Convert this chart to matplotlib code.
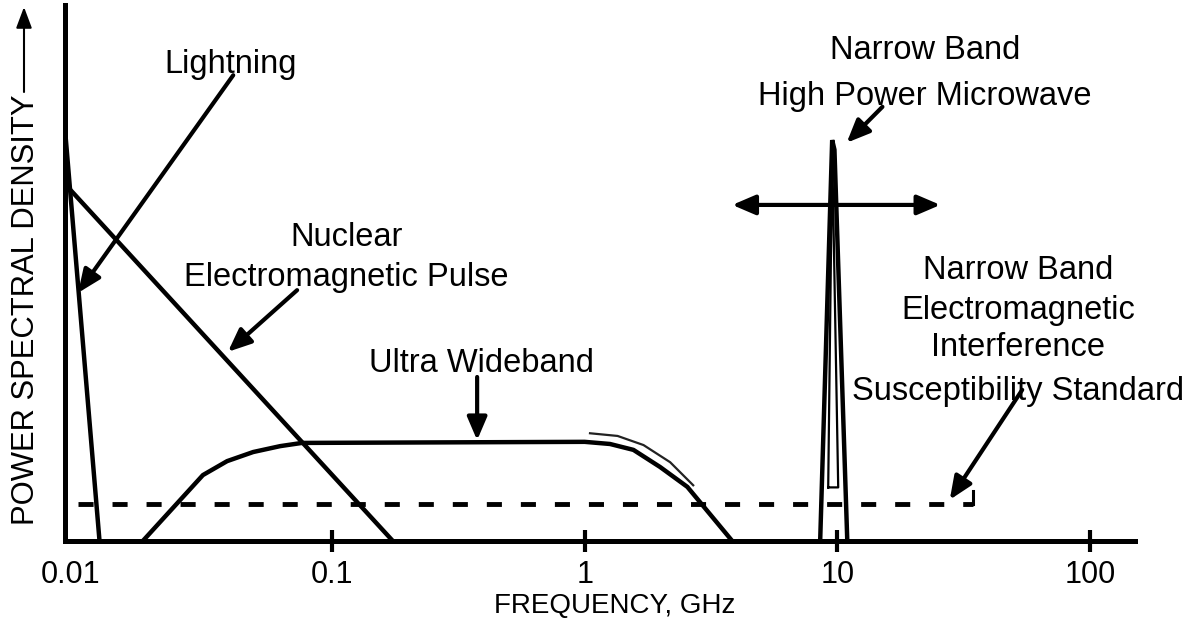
import numpy as np
import matplotlib
matplotlib.use("Agg")
import matplotlib.pyplot as plt
import matplotlib.transforms as mtransforms

plt.rcParams['font.family'] = ['Liberation Sans', 'DejaVu Sans']

# ---- data: frequency (GHz) vs relative power spectral density (0..1) ----
lightning_f = [0.0088, 0.0120]
lightning_p = [0.757, 0.0]

nemp_f = [0.0090, 0.174]
nemp_p = [0.660, 0.0]

uwb_f = [0.0178, 0.0308, 0.0384, 0.0487, 0.0623, 0.0760, 1.00, 1.26, 1.56, 1.99, 2.55, 3.84]
uwb_p = [0.0, 0.123, 0.149, 0.166, 0.177, 0.183, 0.185, 0.181, 0.170, 0.138, 0.101, 0.0]

uwb_ghost_f = [1.05, 1.35, 1.71, 2.18, 2.69]
uwb_ghost_p = [0.201, 0.196, 0.179, 0.147, 0.104]

hpm_f = [8.56, 9.55, 9.75, 10.96]
hpm_p = [0.0, 0.748, 0.730, 0.0]

hpm_inner_f = [9.21, 9.55, 10.09, 9.21]
hpm_inner_p = [0.10, 0.73, 0.10, 0.10]

hpm_band_f = [3.84, 25.6]
hpm_band_p = 0.627

emi_f = [0.00987, 34.6]
emi_p = 0.069
emi_hook_p = 0.093

tick_vals = [0.01, 0.1, 1, 10, 100]
tick_labels = ['0.01', '0.1', '1', '10', '100']

x_limits = (0.00876, 151)

# annotation anchors (text position, arrow tail, arrow head)
lightning_text = (0.0395, 0.873)
lightning_arrow = ((0.0406, 0.869), (0.00987, 0.463))

nemp_text_f = 0.1136
nemp_text_lines = [('Nuclear', 0.551), ('Electromagnetic Pulse', 0.476)]
nemp_arrow = ((0.0727, 0.468), (0.0387, 0.353))

uwb_text = (0.389, 0.315)
uwb_arrow = ((0.3752, 0.306), (0.3752, 0.188))

hpm_text_f = 22.3
hpm_text_lines = [('Narrow Band', 0.900), ('High Power Microwave', 0.813)]
hpm_arrow = ((15.1, 0.810), (10.9, 0.743))

emi_text_f = 52.1
emi_text_lines = [('Narrow Band', 0.489), ('Electromagnetic', 0.414),
                  ('Interference', 0.345), ('Susceptibility Standard', 0.263)]
emi_arrow = ((54.0, 0.282), (27.9, 0.077))

# ---- figure ----
W, H = 1202, 624
fig = plt.figure(figsize=(W / 100, H / 100), dpi=100)
ax = fig.add_axes([65 / W, (H - 541) / H, 1070 / W, 536 / H])
ax.set_xscale('log')
ax.set_xlim(*x_limits)
ax.set_ylim(0, 1)

lw = 3.2
ax.plot(lightning_f, lightning_p, color='black', lw=lw, solid_capstyle='butt')
ax.plot(nemp_f, nemp_p, color='black', lw=lw)
ax.plot(uwb_f, uwb_p, color='black', lw=lw, solid_joinstyle='round')
ax.plot(uwb_ghost_f, uwb_ghost_p, color='#222222', lw=1.6)
ax.plot(hpm_f, hpm_p, color='black', lw=lw, solid_joinstyle='miter')
ax.plot(hpm_inner_f, hpm_inner_p, color='black', lw=1.6)
ax.plot(emi_f, [emi_p, emi_p], color='black', lw=3.5, linestyle=(0, (3.1, 3.9)))
ax.plot([emi_f[1], emi_f[1]], [emi_p, emi_hook_p], color='black', lw=2.2)
ax.annotate('', xy=(hpm_band_f[0], hpm_band_p), xytext=(hpm_band_f[1], hpm_band_p),
            arrowprops=dict(arrowstyle='<|-|>,head_length=0.7,head_width=0.3',
                            lw=3, color='black', shrinkA=0, shrinkB=0,
                            mutation_scale=20))

# spines / ticks
for s in ['top', 'right']:
    ax.spines[s].set_visible(False)
ax.spines['left'].set_linewidth(3.6)
ax.spines['bottom'].set_linewidth(3.6)
ax.set_yticks([])
ax.set_xticks(tick_vals)
ax.set_xticklabels(tick_labels)
ax.minorticks_off()
ax.tick_params(axis='x', direction='inout', length=16, width=3, labelsize=22, pad=6)
first = ax.xaxis.get_major_ticks()[0]
first.tick1line.set_visible(False)
first.label1.set_transform(first.label1.get_transform() +
                           mtransforms.ScaledTranslation(-0.09, 0, fig.dpi_scale_trans))

# annotations
fs = 23.5
arrow_kw = dict(arrowstyle='-|>,head_length=0.7,head_width=0.3', lw=3,
                color='black', shrinkA=0, shrinkB=0, mutation_scale=20)

ax.text(*lightning_text, 'Lightning', fontsize=fs, ha='center', va='baseline')
ax.annotate('', xy=lightning_arrow[1], xytext=lightning_arrow[0], arrowprops=arrow_kw)

for txt, yy in nemp_text_lines:
    ax.text(nemp_text_f, yy, txt, fontsize=fs, ha='center', va='baseline')
ax.annotate('', xy=nemp_arrow[1], xytext=nemp_arrow[0], arrowprops=arrow_kw)

ax.text(*uwb_text, 'Ultra Wideband', fontsize=fs, ha='center', va='baseline')
ax.annotate('', xy=uwb_arrow[1], xytext=uwb_arrow[0], arrowprops=arrow_kw)

for txt, yy in hpm_text_lines:
    ax.text(hpm_text_f, yy, txt, fontsize=fs, ha='center', va='baseline', clip_on=False)
ax.annotate('', xy=hpm_arrow[1], xytext=hpm_arrow[0], arrowprops=arrow_kw)

for txt, yy in emi_text_lines:
    ax.text(emi_text_f, yy, txt, fontsize=fs, ha='center', va='baseline', clip_on=False)
ax.annotate('', xy=emi_arrow[1], xytext=emi_arrow[0], arrowprops=arrow_kw)

# axis labels
fig.text(615 / W, 1 - 606 / H, 'FREQUENCY, GHz', fontsize=20, ha='center', va='center')
fig.text(26 / W, 1 - 310 / H, 'POWER SPECTRAL DENSITY', fontsize=22.3, rotation=90,
         ha='center', va='center')
fig.add_artist(matplotlib.patches.FancyArrowPatch(
    (24 / W, 1 - 92 / H), (24 / W, 1 - 7 / H), transform=fig.transFigure,
    arrowstyle='-|>,head_length=0.8,head_width=0.3', lw=1.5, color='black',
    mutation_scale=16, shrinkA=0, shrinkB=0))

fig.savefig('out.png', dpi=100)
